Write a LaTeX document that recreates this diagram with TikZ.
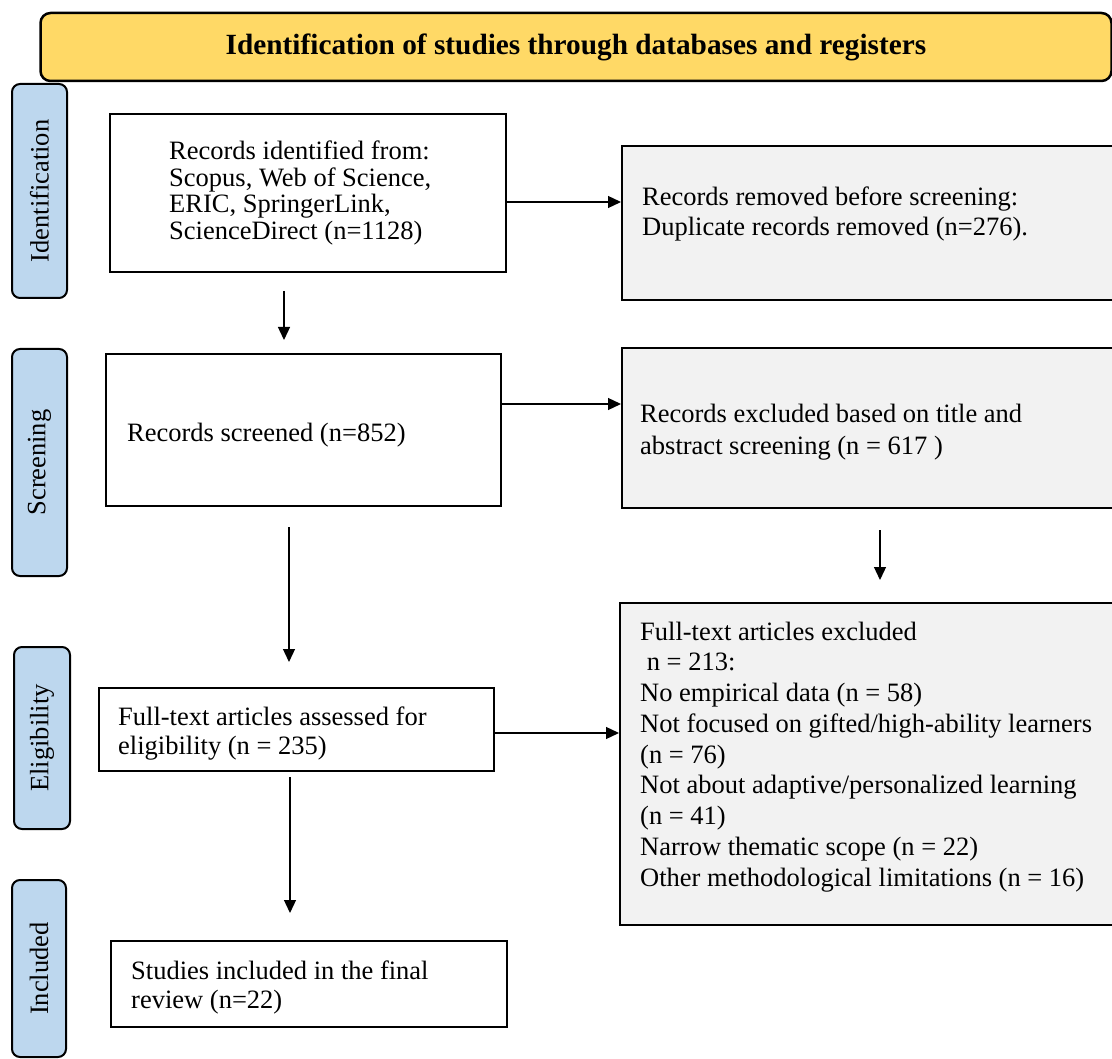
\documentclass[tikz,border=0pt]{standalone}
\usepackage{fontspec}
\setmainfont{Liberation Serif}
\usetikzlibrary{arrows.meta}
\definecolor{bannerY}{HTML}{FFD966}
\definecolor{phaseB}{HTML}{BDD7EE}
\definecolor{greyF}{HTML}{F2F2F2}
\begin{document}
\begin{tikzpicture}[x=1pt,y=-1pt,
  box/.style={draw, line width=2pt, rectangle, inner sep=0pt, anchor=north west},
  greybox/.style={box, fill=greyF},
  phase/.style={draw, line width=2pt, fill=phaseB, rounded corners=8pt, rotate=90,
    inner sep=0pt, font=\fontsize{26.5}{30}\selectfont},
  txt/.style={anchor=north west, inner sep=0pt, align=left},
  arr/.style={line width=1.3pt, -{Triangle[length=13pt,width=12pt]}}]
\useasboundingbox (0,0) rectangle (1112,1059);
% banner
\node[draw, line width=2.5pt, fill=bannerY, rounded corners=10pt, minimum width=1071pt,
  minimum height=68pt, inner sep=0pt, font=\bfseries\fontsize{29.3}{32}\selectfont]
  (title) at (576,47) {Identification of studies through databases and registers};
% phase labels
\node[phase, minimum width=214pt, minimum height=55pt] (pid) at (39.5,191) {Identification};
\node[phase, minimum width=227pt, minimum height=55pt] (psc) at (39.5,462.5) {Screening};
\node[phase, minimum width=182pt, minimum height=56pt] (pel) at (42,738) {Eligibility};
\node[phase, minimum width=177pt, minimum height=54pt] (pin) at (39,968.5) {Included};
% boxes
\node[box, minimum width=396pt, minimum height=158pt] (b1) at (109,113) {};
\node[greybox, minimum width=500pt, minimum height=154pt] (b2) at (621,145) {};
\node[box, minimum width=395pt, minimum height=152pt] (b3) at (105,353) {};
\node[greybox, minimum width=500pt, minimum height=160pt] (b4) at (621,347) {};
\node[box, minimum width=395pt, minimum height=83pt] (b5) at (98,687) {};
\node[greybox, minimum width=500pt, minimum height=322pt] (b6) at (619,602) {};
\node[box, minimum width=396pt, minimum height=86pt] (b7) at (110,940) {};
% texts
\node[txt, font=\fontsize{26.5}{26.7}\selectfont] (b1t) at (169,140.5)
  {Records identified from:\\Scopus, Web of Science,\\ERIC, SpringerLink,\\ScienceDirect (n=1128)};
\node[txt, font=\fontsize{26.5}{30}\selectfont] (b2t) at (642,186.5)
  {Records removed before screening:\\Duplicate records removed (n=276).};
\node[txt, font=\fontsize{26.5}{30}\selectfont] (b3t) at (127,422.5)
  {Records screened (n=852)};
\node[txt, font=\fontsize{26.5}{32}\selectfont] (b4t) at (640,403.5)
  {Records excluded based on title and\\abstract screening (n = 617 )};
\node[txt, font=\fontsize{26.5}{29}\selectfont] (b5t) at (118,706.5)
  {Full-text articles assessed for\\eligibility (n = 235)};
\node[txt, font=\fontsize{26.5}{30.75}\selectfont] (b6t) at (640,621.5)
  {Full-text articles excluded\\\hspace*{0.25em}n = 213:\\No empirical data (n = 58)\\Not focused on gifted/high-ability learners\\(n = 76)\\Not about adaptive/personalized learning\\(n = 41)\\Narrow thematic scope (n = 22)\\Other methodological limitations (n = 16)};
\node[txt, font=\fontsize{26.5}{29}\selectfont] (b7t) at (131,960.5)
  {Studies included in the final\\review (n=22)};
% connectors
\draw[arr] (b1.east |- 0,202) -- (b2.west |- 0,202);
\draw[arr] (b3.east |- 0,404) -- (b4.west |- 0,404);
\draw[arr] (b5.east |- 0,733) -- (b6.west |- 0,733);
\coordinate (v1s) at (284,291); \coordinate (v1e) at (284,340);
\coordinate (v2s) at (880,530); \coordinate (v2e) at (880,580);
\coordinate (v3s) at (289,527); \coordinate (v3e) at (289,662);
\coordinate (v4s) at (290,777); \coordinate (v4e) at (290,913);
\draw[arr] (v1s) -- (v1e);
\draw[arr] (v2s) -- (v2e);
\draw[arr] (v3s) -- (v3e);
\draw[arr] (v4s) -- (v4e);
\end{tikzpicture}
\end{document}
